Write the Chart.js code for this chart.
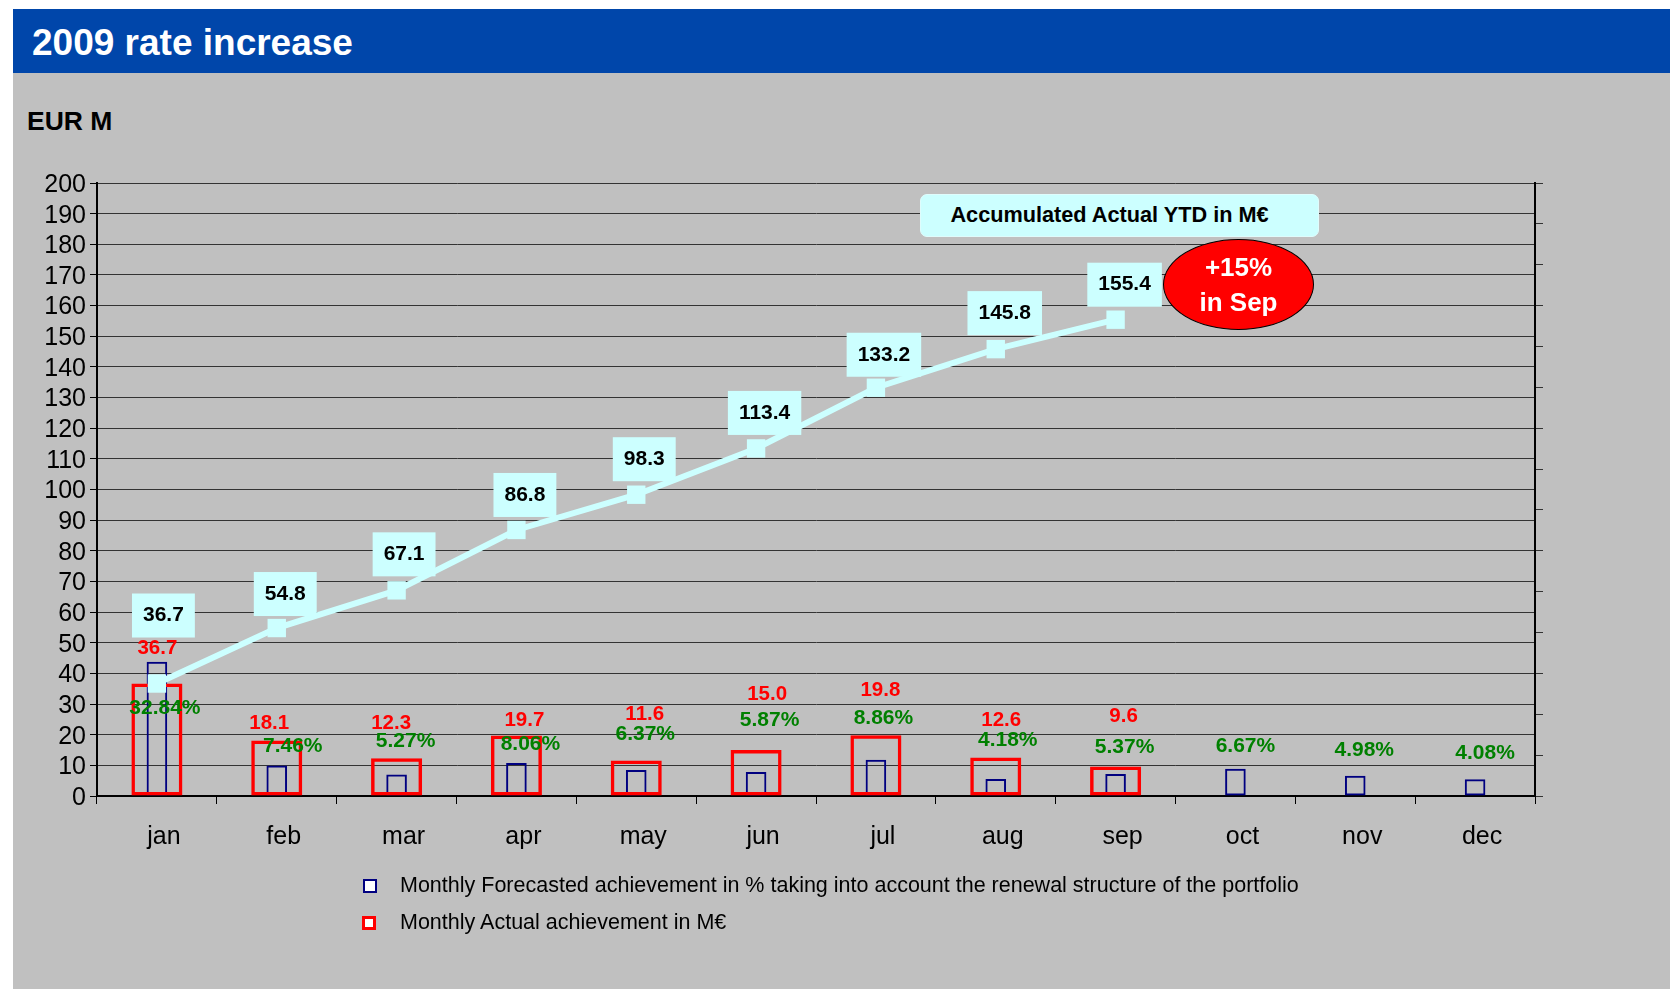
<!DOCTYPE html>
<html>
<head>
<meta charset="utf-8">
<script src="https://cdn.jsdelivr.net/npm/chart.js@4.4.1/dist/chart.umd.min.js"></script>
<style>
html,body{margin:0;padding:0;}
body{width:1670px;height:989px;position:relative;overflow:hidden;background:#fff;font-family:'Liberation Sans',Arial,Helvetica,sans-serif;}
#bg{position:absolute;left:13px;top:73px;right:0;bottom:0;background:#C0C0C0;}
#hdr{position:absolute;left:13px;top:9px;right:0;height:64px;background:#0046AA;}
#title{position:absolute;left:32px;top:24px;font-size:37px;line-height:37px;font-weight:bold;color:#fff;white-space:nowrap;}
#unit{position:absolute;left:27px;top:108px;font-size:26.5px;line-height:26px;font-weight:bold;color:#000;white-space:nowrap;}
#wrap{position:absolute;left:0;top:0;width:1670px;height:989px;}
canvas{display:block;}
#ytdBox{position:absolute;left:920px;top:194px;width:399px;height:43px;box-sizing:border-box;padding-right:20px;background:#CCFFFF;border:1px solid #dffcfc;border-radius:7px;text-align:center;font-size:21.7px;line-height:39px;font-weight:bold;color:#000;white-space:nowrap;}
#badge{position:absolute;left:1163px;top:239px;width:151px;height:91px;box-sizing:border-box;background:#FF0000;border:1.5px solid #000;border-radius:50%;display:flex;flex-direction:column;align-items:center;justify-content:center;font-size:26px;line-height:35px;font-weight:bold;color:#fff;white-space:nowrap;}
.lg-row{position:absolute;left:400px;font-size:21.5px;line-height:21.5px;white-space:nowrap;color:#000;}
.lg-mark{position:absolute;box-sizing:border-box;width:14px;height:14px;background:#fff;}
</style>
</head>
<body>
<div id="bg"></div>
<div id="hdr"></div>
<div id="title">2009 rate increase</div>
<div id="unit">EUR M</div>
<div id="wrap"><canvas id="c" width="1670" height="989"></canvas></div>
<div id="ytdBox"></div>
<div id="badge"></div>
<div id="legend"></div>
<script>
// ---- data ----
const months = ['jan','feb','mar','apr','may','jun','jul','aug','sep','oct','nov','dec'];
const actualMonthly = [36.7, 18.1, 12.3, 19.7, 11.6, 15.0, 19.8, 12.6, 9.6, null, null, null];
const forecastPct = [32.84, 7.46, 5.27, 8.06, 6.37, 5.87, 8.86, 4.18, 5.37, 6.67, 4.98, 4.08];
const accumulatedYTD = [36.7, 54.8, 67.1, 86.8, 98.3, 113.4, 133.2, 145.8, 155.4, null, null, null];
const forecastName = 'Monthly Forecasted achievement in % taking into account the renewal structure of the portfolio';
const actualName = 'Monthly Actual achievement in M\u20AC';
const ytdName = 'Accumulated Actual YTD in M\u20AC';
const badgeLines = ['+15%', 'in Sep'];
const eurAxisMin = 0, eurAxisMax = 200, eurAxisStep = 10;
const pctAxisMin = 0, pctAxisMax = 150, pctAxisStep = 10;

// ---- label placement (pixel shifts of value labels relative to their mark) ----
const ytdLabelShift = [[6.5,-68],[8.5,-34],[7.5,-36],[8.5,-35],[8,-35.5],[8.5,-35.5],[8,-33],[9,-36],[9,-35]];
const actualLabelShift = [[0.5,-35],[-7.5,-17.5],[-5.5,-35],[8,-15.5],[8.5,-46],[11,-56],[4.5,-45],[5.5,-37.5],[8,-50.5]];
const forecastLabelShift = [[8,46],[16,-19.5],[9,-33],[14,-19],[9,-36],[13.5,-52],[7.5,-42],[12,-39],[9,-26.5],[10,-23],[9,-25.5],[10,-26]];

const FONT = '"Liberation Sans", Arial, Helvetica, sans-serif';

const valueLabels = {
  id: 'valueLabels',
  afterDatasetsDraw(chart) {
    const ctx = chart.ctx;
    ctx.save();
    ctx.textAlign = 'center';
    ctx.textBaseline = 'middle';
    // accumulated YTD boxes
    const lm = chart.getDatasetMeta(2);
    ctx.font = 'bold 21px ' + FONT;
    lm.data.forEach((pt, i) => {
      const v = accumulatedYTD[i];
      if (v == null) return;
      const s = ytdLabelShift[i];
      const cx = pt.x + s[0], cy = pt.y + s[1];
      const t = v.toFixed(1);
      const w = ctx.measureText(t).width + 22, h = 44;
      ctx.fillStyle = '#CCFFFF';
      ctx.fillRect(cx - w / 2, cy - h / 2, w, h);
      ctx.fillStyle = '#000';
      ctx.fillText(t, cx, cy);
    });
    // actual monthly labels
    const am = chart.getDatasetMeta(1);
    ctx.font = 'bold 20.5px ' + FONT;
    ctx.fillStyle = '#FF0000';
    am.data.forEach((bar, i) => {
      const v = actualMonthly[i];
      if (v == null) return;
      const s = actualLabelShift[i];
      ctx.fillText(v.toFixed(1), bar.x + s[0], bar.y + s[1]);
    });
    // forecast % labels
    const fm = chart.getDatasetMeta(0);
    ctx.font = 'bold 21px ' + FONT;
    ctx.fillStyle = '#008000';
    fm.data.forEach((bar, i) => {
      const v = forecastPct[i];
      if (v == null) return;
      const s = forecastLabelShift[i];
      ctx.fillText(v.toFixed(2) + '%', bar.x + s[0], bar.y + s[1]);
    });
    ctx.restore();
  }
};

const chart = new Chart(document.getElementById('c'), {
  data: {
    labels: months,
    datasets: [
      {
        type: 'bar', label: forecastName, data: forecastPct, yAxisID: 'y2',
        backgroundColor: 'rgba(0,0,0,0)', borderColor: '#000080', borderWidth: 2,
        borderSkipped: false, grouped: false, barPercentage: 0.172, categoryPercentage: 1, order: 2
      },
      {
        type: 'bar', label: actualName, data: actualMonthly, yAxisID: 'y',
        backgroundColor: 'rgba(0,0,0,0)', borderColor: '#FF0000', borderWidth: 3.5,
        borderSkipped: false, grouped: false, barPercentage: 0.426, categoryPercentage: 1, order: 1
      },
      {
        type: 'line', label: ytdName, data: accumulatedYTD, yAxisID: 'y',
        borderColor: '#CCFFFF', borderWidth: 6, backgroundColor: '#CCFFFF',
        pointStyle: 'rect', pointRadius: 13, pointBorderWidth: 0, pointBackgroundColor: '#CCFFFF',
        tension: 0, spanGaps: false, order: 0
      }
    ]
  },
  options: {
    responsive: false,
    devicePixelRatio: 1,
    animation: false,
    layout: { padding: { left: 0, top: 183, right: 115, bottom: 133 } },
    plugins: { legend: { display: false }, tooltip: { enabled: false }, title: { display: false } },
    scales: {
      x: {
        type: 'category', offset: true,
        grid: { offset: true, drawOnChartArea: false, drawTicks: true, tickLength: 8, color: '#000', lineWidth: 1 },
        border: { display: true, color: '#000', width: 2 },
        ticks: { font: { family: FONT, size: 25 }, color: '#000', padding: 18, labelOffset: 7, maxRotation: 0, autoSkip: false },
        afterFit(s) { s.height = 60; }
      },
      y: {
        position: 'left', min: eurAxisMin, max: eurAxisMax,
        ticks: { stepSize: eurAxisStep, font: { family: FONT, size: 25 }, color: '#000', padding: 4, labelOffset: 2, autoSkip: false },
        grid: { color: '#333', lineWidth: 1, tickLength: 7, tickColor: '#000' },
        border: { display: true, color: '#000', width: 2 },
        afterFit(s) { s.width = 97; }
      },
      y2: {
        position: 'right', min: pctAxisMin, max: pctAxisMax,
        ticks: { stepSize: pctAxisStep, display: false },
        grid: { drawOnChartArea: false, tickLength: 8, color: '#333', tickColor: '#333' },
        border: { display: true, color: '#000', width: 2 },
        afterFit(s) { s.width = 20; }
      }
    }
  },
  plugins: [valueLabels]
});

// annotation boxes from dataset labels
document.getElementById('ytdBox').textContent = chart.data.datasets[2].label;
const badge = document.getElementById('badge');
badgeLines.forEach(t => { const d = document.createElement('div'); d.textContent = t; badge.appendChild(d); });

// legend (two stacked rows) from the bar datasets
const legend = document.getElementById('legend');
const legendRows = [
  { ds: chart.data.datasets[0], top: 874.5, markTop: 879, markLeft: 363, bw: 2 },
  { ds: chart.data.datasets[1], top: 911.8, markTop: 916, markLeft: 362, bw: 3 }
];
legendRows.forEach(r => {
  const m = document.createElement('div');
  m.className = 'lg-mark';
  m.style.left = r.markLeft + 'px';
  m.style.top = r.markTop + 'px';
  m.style.border = r.bw + 'px solid ' + r.ds.borderColor;
  legend.appendChild(m);
  const t = document.createElement('div');
  t.className = 'lg-row';
  t.style.top = r.top + 'px';
  t.textContent = r.ds.label;
  legend.appendChild(t);
});
</script>
</body>
</html>
